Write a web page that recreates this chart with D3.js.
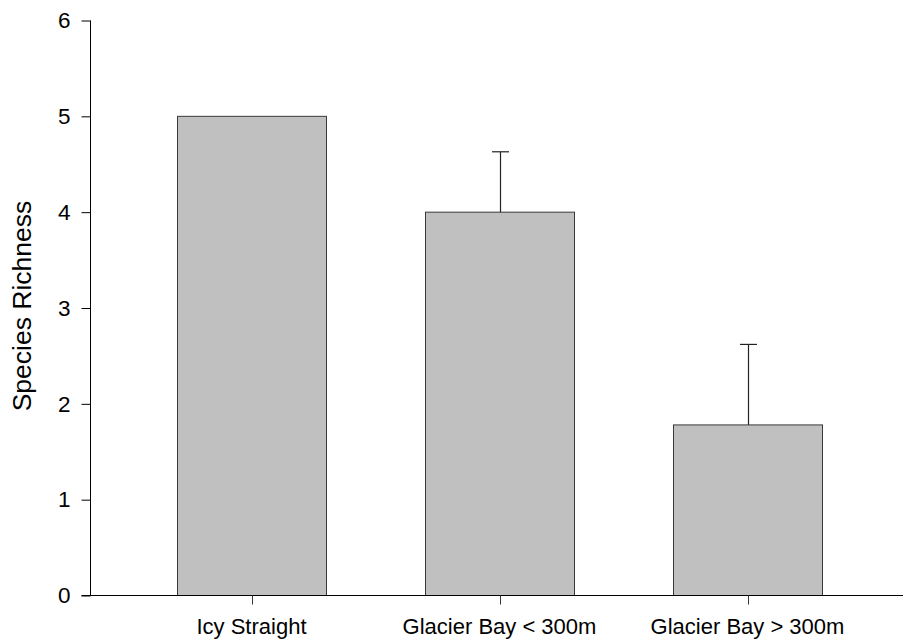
<!DOCTYPE html>
<html>
<head>
<meta charset="utf-8">
<script src="https://cdn.jsdelivr.net/npm/d3@7"></script>
<style>
  html, body { margin: 0; padding: 0; background: #fff; }
  svg { display: block; font-family: Arial, "Liberation Sans", Helvetica, sans-serif; }
</style>
</head>
<body>
<svg id="chart" width="903" height="643"></svg>
<script>
// Mean species richness per site, with upper error (mean + SE)
const sites = ["Icy Straight", "Glacier Bay < 300m", "Glacier Bay > 300m"];
const richness = [5.0, 4.0, 1.78];
const errorTop = [null, 4.63, 2.62];
const yTicks = [0, 1, 2, 3, 4, 5, 6];

const svg = d3.select("#chart");

const y = d3.scaleLinear().domain([0, 6]).range([595.5, 20.5]);
const x = d3.scalePoint().domain(sites).range([251.5, 747.5]);
const step = x.step();
const barW = step * 0.6;
const capW = 17;

const axisX = 90.5;

// Bars
svg.append("g").selectAll("rect")
  .data(sites)
  .join("rect")
  .attr("x", (d) => Math.round(x(d) - barW / 2) + 0.5)
  .attr("y", (d, i) => y(richness[i]))
  .attr("width", Math.round(barW))
  .attr("height", (d, i) => y(0) - y(richness[i]))
  .attr("fill", "#c0c0c0")
  .attr("stroke", "#3a3a3a")
  .attr("stroke-width", 1);

// Upper error bars
const eb = svg.append("g").attr("stroke", "#222").attr("stroke-width", 1.2);
sites.forEach((s, i) => {
  if (errorTop[i] == null) return;
  const cx = Math.round(x(s)) + 0.5;
  eb.append("line").attr("x1", cx).attr("x2", cx)
    .attr("y1", y(richness[i])).attr("y2", y(errorTop[i]));
  eb.append("line").attr("x1", cx - capW / 2).attr("x2", cx + capW / 2)
    .attr("y1", y(errorTop[i])).attr("y2", y(errorTop[i]));
});

// Y axis with outward ticks
const yAxis = svg.append("g")
  .attr("transform", `translate(${axisX},0)`)
  .call(d3.axisLeft(y).tickValues(yTicks).tickFormat(d3.format("d")).tickSize(9).tickPadding(11));
yAxis.select(".domain").remove();
yAxis.append("line").attr("x1", 0).attr("x2", 0)
  .attr("y1", y(6)).attr("y2", y(0)).attr("stroke", "#000");
yAxis.selectAll(".tick line").attr("stroke", "#000");
yAxis.selectAll(".tick text")
  .attr("fill", "#000").style("font-size", "22.5px");

// X axis: baseline runs to the right edge, ticks hang below at bar centres
const xAxis = svg.append("g").attr("transform", `translate(0,${y(0)})`);
xAxis.append("line").attr("x1", axisX - 9).attr("x2", 903)
  .attr("y1", 0).attr("y2", 0).attr("stroke", "#000");
xAxis.selectAll("line.tk")
  .data(sites).join("line").attr("class", "tk")
  .attr("x1", (d) => Math.round(x(d)) + 0.5).attr("x2", (d) => Math.round(x(d)) + 0.5)
  .attr("y1", 0).attr("y2", 9).attr("stroke", "#333");
xAxis.selectAll("text")
  .data(sites).join("text")
  .attr("x", (d) => x(d)).attr("y", 38.5)
  .attr("text-anchor", "middle")
  .style("font-size", "22px")
  .attr("fill", "#000")
  .text((d) => d);

// Y axis title
svg.append("text")
  .attr("transform", `translate(31,306) rotate(-90)`)
  .attr("text-anchor", "middle")
  .style("font-size", "26.5px")
  .attr("fill", "#000")
  .text("Species Richness");
</script>
</body>
</html>
